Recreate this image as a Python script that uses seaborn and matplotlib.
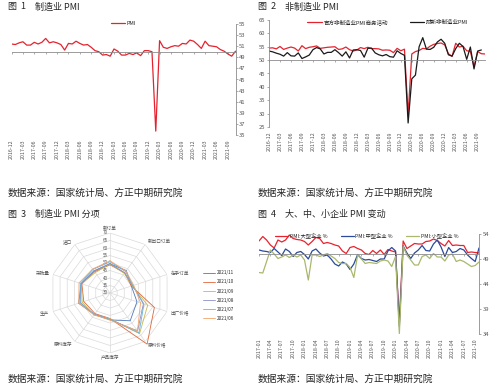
import numpy as np
import pandas as pd
import matplotlib
matplotlib.use("Agg")
import matplotlib.pyplot as plt
import seaborn as sns

sns.set_theme(style="white")
plt.rcParams["font.family"] = ["Noto Sans CJK SC", "DejaVu Sans"]
plt.rcParams["axes.unicode_minus"] = False

# ─────────────────────────────────────────────
# DATA
# ─────────────────────────────────────────────
months_a = pd.period_range("2016-12", "2021-11", freq="M").strftime("%Y-%m").tolist()
months_b = pd.period_range("2017-01", "2021-11", freq="M").strftime("%Y-%m").tolist()

# 图1 制造业 PMI
pmi_mfg = [51.4,
           51.3, 51.6, 51.8, 51.2, 51.2, 51.7, 51.4, 51.7, 52.4, 51.6, 51.8, 51.6,
           51.3, 50.3, 51.5, 51.4, 51.9, 51.5, 51.2, 51.3, 50.8, 50.2, 50.0, 49.4,
           49.5, 49.2, 50.5, 50.1, 49.4, 49.4, 49.7, 49.5, 49.8, 49.3, 50.2, 50.2,
           50.0, 35.7, 52.0, 50.8, 50.6, 50.9, 51.1, 51.0, 51.5, 51.4, 52.1, 51.9,
           51.3, 50.6, 51.9, 51.1, 51.0, 50.9, 50.4, 50.1, 49.6, 49.2, 50.1]

# 图2 非制造业 PMI
nonmfg_official = [54.5,
                   54.6, 54.2, 55.1, 54.0, 54.5, 54.9, 54.5, 53.4, 55.4, 54.3, 54.8, 55.0,
                   55.3, 54.4, 54.6, 54.8, 54.9, 55.0, 54.0, 54.2, 54.9, 53.9, 53.4, 53.8,
                   54.7, 54.3, 54.8, 54.3, 54.3, 54.2, 53.7, 53.8, 53.7, 52.8, 54.4, 53.5,
                   54.1, 29.6, 52.3, 53.2, 53.6, 54.4, 54.2, 55.2, 55.9, 56.2, 56.4, 55.7,
                   52.4, 51.4, 56.3, 54.9, 55.2, 53.5, 53.3, 47.5, 53.2, 52.4, 52.3]
nonmfg_caixin = [53.4,
                 53.1, 52.6, 52.2, 51.5, 52.8, 51.6, 51.5, 52.7, 50.6, 51.2, 51.9, 53.9,
                 54.7, 54.2, 52.3, 52.9, 52.9, 53.9, 52.8, 51.5, 53.1, 50.8, 53.8, 53.9,
                 53.6, 51.1, 54.4, 54.5, 52.7, 52.0, 51.6, 52.1, 51.3, 51.1, 53.5, 52.5,
                 51.8, 26.5, 43.0, 44.4, 55.0, 58.4, 54.1, 54.0, 54.8, 56.8, 57.8, 56.3,
                 52.0, 51.5, 54.3, 56.3, 55.1, 50.3, 54.9, 46.7, 53.4, 53.8, np.nan]

# 图3 制造业 PMI 分项
radar_items = ["新订单", "新出口订单", "在手订单", "出厂价格", "原料价格",
               "产品库存", "原料库存", "生产", "采购量", "进口"]
radar_months = ["2021/11", "2021/10", "2021/09", "2021/08", "2021/07", "2021/06"]
r_2021_11 = [49.4, 48.5, 45.0, 48.9, 52.9, 47.9, 47.7, 52.0, 50.2, 48.1]
r_2021_10 = [48.8, 46.6, 45.0, 61.1, 72.1, 47.0, 47.0, 48.4, 49.7, 47.5]
r_2021_09 = [49.3, 46.2, 45.6, 56.4, 63.5, 47.2, 48.2, 49.5, 50.0, 46.8]
r_2021_08 = [49.6, 46.7, 45.9, 53.4, 61.3, 47.7, 47.7, 50.9, 50.3, 48.3]
r_2021_07 = [50.9, 47.7, 46.1, 53.8, 62.9, 47.6, 47.7, 51.0, 50.8, 49.4]
r_2021_06 = [51.5, 48.1, 46.6, 51.4, 61.2, 48.1, 48.0, 51.9, 51.7, 49.7]

# 图4 大、中、小企业 PMI
pmi_large = [52.6, 53.5, 52.8, 51.8, 51.2, 52.8, 52.4, 52.8, 53.8, 53.1, 52.9, 52.8,
             52.5, 51.8, 52.5, 53.3, 53.1, 52.1, 52.3, 52.1, 51.8, 51.6, 50.6, 50.1,
             51.3, 51.5, 51.1, 50.8, 50.1, 49.9, 50.7, 50.1, 50.8, 49.9, 50.9, 50.6,
             50.4, 36.3, 52.6, 51.1, 51.6, 52.1, 52.0, 52.0, 52.5, 52.6, 53.0, 52.7,
             52.1, 51.6, 52.7, 51.7, 51.8, 51.7, 51.7, 50.3, 50.4, 50.3, 50.2]
pmi_medium = [50.8, 50.6, 50.5, 50.3, 51.1, 50.4, 49.7, 51.0, 50.5, 49.5, 50.3, 50.5,
              49.9, 49.0, 50.6, 51.0, 50.2, 49.6, 49.8, 49.0, 48.0, 47.6, 48.4, 48.0,
              46.9, 48.0, 49.9, 49.1, 48.8, 48.9, 48.7, 48.5, 49.0, 49.0, 50.6, 51.3,
              50.6, 35.5, 51.6, 50.2, 49.1, 50.2, 50.8, 51.7, 50.7, 50.6, 52.0, 52.8,
              51.4, 49.5, 51.3, 50.3, 50.5, 51.1, 50.8, 49.8, 49.1, 48.5, 51.2]
pmi_small = [46.3, 46.2, 48.5, 50.8, 50.0, 49.1, 49.4, 49.8, 49.3, 49.8, 49.4, 49.8,
             48.8, 44.8, 49.8, 49.8, 49.5, 49.8, 50.1, 49.6, 49.1, 48.3, 48.1, 48.1,
             47.3, 45.3, 49.8, 49.0, 48.1, 48.3, 48.2, 48.1, 48.6, 48.8, 48.6, 47.5,
             49.5, 34.1, 51.5, 49.8, 48.8, 47.8, 47.8, 49.5, 49.8, 49.1, 50.1, 49.4,
             49.4, 48.6, 49.8, 50.0, 48.5, 48.8, 48.5, 48.0, 47.5, 47.7, 48.4]

# ─────────────────────────────────────────────
# STYLE
# ─────────────────────────────────────────────
W, H = 500, 389
AXC = "#8C8C8C"
TXT = "#555555"
DARK = "#262626"
GRID = "#DADADA"
SRC = "数据来源：国家统计局、方正中期研究院"


def box(x0, y0, x1, y1):
    return [x0 / W, 1 - y1 / H, (x1 - x0) / W, (y1 - y0) / H]


def style_time_axis(ax, labels, ylim, yticks, side):
    n = len(labels)
    ax.set_xlim(0, n - 1)
    ax.set_ylim(*ylim)
    ax.set_yticks(yticks)
    ax.set_facecolor("none")
    for s in ["top", "left", "right"]:
        ax.spines[s].set_visible(False)
    ax.spines[side].set_visible(True)
    ax.spines[side].set_color(AXC)
    ax.spines[side].set_linewidth(0.6)
    if side == "right":
        ax.yaxis.tick_right()
    ax.tick_params(axis="y", left=(side == "left"), right=(side == "right"),
                   length=1.5, width=0.5, color=AXC, labelsize=4.2,
                   labelcolor=TXT, pad=1.2)
    # category axis crosses at 50
    ax.spines["bottom"].set_position(("data", 50))
    ax.spines["bottom"].set_color(AXC)
    ax.spines["bottom"].set_linewidth(0.6)
    idx = list(range(0, n, 3))
    ax.set_xticks(idx)
    ax.tick_params(axis="x", bottom=True, labelbottom=False,
                   length=1.5, width=0.5, color=AXC)
    sec = ax.secondary_xaxis("bottom")
    sec.set_xticks(idx, [labels[i] for i in idx])
    sec.spines["bottom"].set_visible(False)
    sec.tick_params(axis="x", length=0, labelsize=3.8, labelrotation=90,
                    pad=3, labelcolor=TXT)
    ax.set_xlabel("")
    ax.set_ylabel("")


def titles(x, y, num, name):
    fig.text(x / W, 1 - y / H, f"图  {num}", fontsize=6.5, color=DARK, va="center")
    fig.text((x + 27) / W, 1 - y / H, name, fontsize=6.5, color=DARK, va="center")


fig = plt.figure(figsize=(5.0, 3.89), dpi=100)

# ─────────────────────────────────────────────
# 图1 制造业 PMI
# ─────────────────────────────────────────────
ax1 = fig.add_axes(box(11.5, 24, 235.5, 135))
sns.lineplot(x=np.arange(len(pmi_mfg)), y=pmi_mfg, ax=ax1,
             color="#E5232E", lw=0.9, label="PMI")
style_time_axis(ax1, months_a, (35, 55), np.arange(35, 56, 2), "right")
ax1.legend(loc="upper center", bbox_to_anchor=(0.5, 1.05), frameon=False,
           fontsize=4, handlelength=2.6, handletextpad=0.3, borderpad=0)
titles(8, 7, 1, "制造业 PMI")
fig.text(8 / W, 1 - 193 / H, SRC, fontsize=7, color=DARK, va="center")

# ─────────────────────────────────────────────
# 图2 非制造业 PMI
# ─────────────────────────────────────────────
ax2 = fig.add_axes(box(269, 20, 485, 127))
x2 = np.arange(len(nonmfg_official))
sns.lineplot(x=x2, y=nonmfg_official, ax=ax2, color="#E5232E", lw=0.9,
             label="官方非制造业PMI商务活动")
sns.lineplot(x=x2, y=nonmfg_caixin, ax=ax2, color="#1A1A1A", lw=0.9,
             label="财新非制造业PMI")
style_time_axis(ax2, months_a, (25, 65), np.arange(25, 66, 5), "left")
ax2.legend(loc="upper center", bbox_to_anchor=(0.55, 1.03), ncol=2,
           frameon=False, fontsize=4, handlelength=2.6, handletextpad=0.3,
           columnspacing=4, borderpad=0)
titles(258, 7, 2, "非制造业 PMI")
fig.text(258 / W, 1 - 193 / H, SRC, fontsize=7, color=DARK, va="center")

# ─────────────────────────────────────────────
# 图3 制造业 PMI 分项 (radar)
# ─────────────────────────────────────────────
radar_series = [r_2021_11, r_2021_10, r_2021_09, r_2021_08, r_2021_07, r_2021_06]
radar_colors = ["#4E79B8", "#E0663A", "#C9B84E", "#8A8FC8", "#6BB3D9", "#F2A46B"]
angles = np.linspace(0, 2 * np.pi, len(radar_items), endpoint=False)
ang_c = np.append(angles, angles[0])

axr = fig.add_axes(box(50, 233, 170, 353), projection="polar")
axr.set_theta_zero_location("N")
axr.set_theta_direction(-1)
axr.set_ylim(30, 70)
axr.grid(False)
axr.spines["polar"].set_visible(False)
axr.set_xticks([])
axr.set_yticks([])
axr.set_facecolor("none")

levels = np.arange(30, 71, 5)
for lv in levels[1:]:
    axr.plot(ang_c, np.full(len(ang_c), lv), color=GRID, lw=0.5, zorder=1)
for a in angles:
    axr.plot([a, a], [30, 70], color=GRID, lw=0.5, zorder=1)
for lv in levels:
    axr.annotate(str(lv), xy=(0, lv), xytext=(-1.2, 0), textcoords="offset points",
                 ha="right", va="center", fontsize=3.3, color=TXT)

for vals, lab, col in zip(radar_series, radar_months, radar_colors):
    axr.plot(ang_c, np.append(vals, vals[0]), color=col, lw=0.6, label=lab,
             clip_on=False, zorder=3)

for a, name in zip(angles, radar_items):
    deg = np.degrees(a)
    if np.isclose(deg, 0):
        ha, va, r = "center", "bottom", 71.5
    elif np.isclose(deg, 180):
        ha, va, r = "center", "top", 71.5
    elif deg < 180:
        ha, va, r = "left", "center", 72.5
    else:
        ha, va, r = "right", "center", 72.5
    axr.text(a, r, name, ha=ha, va=va, fontsize=3.3, color=TXT)

fig.legend(*axr.get_legend_handles_labels(), loc="upper left",
           bbox_to_anchor=(201 / W, 1 - 268 / H), frameon=False, fontsize=3.3,
           handlelength=2.6, handletextpad=0.4, labelspacing=0.9, borderpad=0)
titles(8, 214, 3, "制造业 PMI 分项")
fig.text(8 / W, 1 - 379 / H, SRC, fontsize=7, color=DARK, va="center")

# ─────────────────────────────────────────────
# 图4 大、中、小企业 PMI 变动
# ─────────────────────────────────────────────
ax4 = fig.add_axes(box(259, 234, 479, 334))
x4 = np.arange(len(pmi_large))
sns.lineplot(x=x4, y=pmi_large, ax=ax4, color="#E8232F", lw=0.9, label="PMI:大型企业 %")
sns.lineplot(x=x4, y=pmi_medium, ax=ax4, color="#2B4A9C", lw=0.9, label="PMI:中型企业 %")
sns.lineplot(x=x4, y=pmi_small, ax=ax4, color="#A9B86C", lw=0.9, label="PMI:小型企业 %")
style_time_axis(ax4, months_b, (34, 54), np.arange(34, 55, 5), "right")
ax4.legend(loc="upper center", bbox_to_anchor=(0.49, 1.04), ncol=3, frameon=False,
           fontsize=3.8, handlelength=2.4, handletextpad=0.3, columnspacing=2.6,
           borderpad=0)
titles(258, 214, 4, "大、中、小企业 PMI 变动")
fig.text(258 / W, 1 - 379 / H, SRC, fontsize=7, color=DARK, va="center")

fig.savefig("out.png", dpi=100)
